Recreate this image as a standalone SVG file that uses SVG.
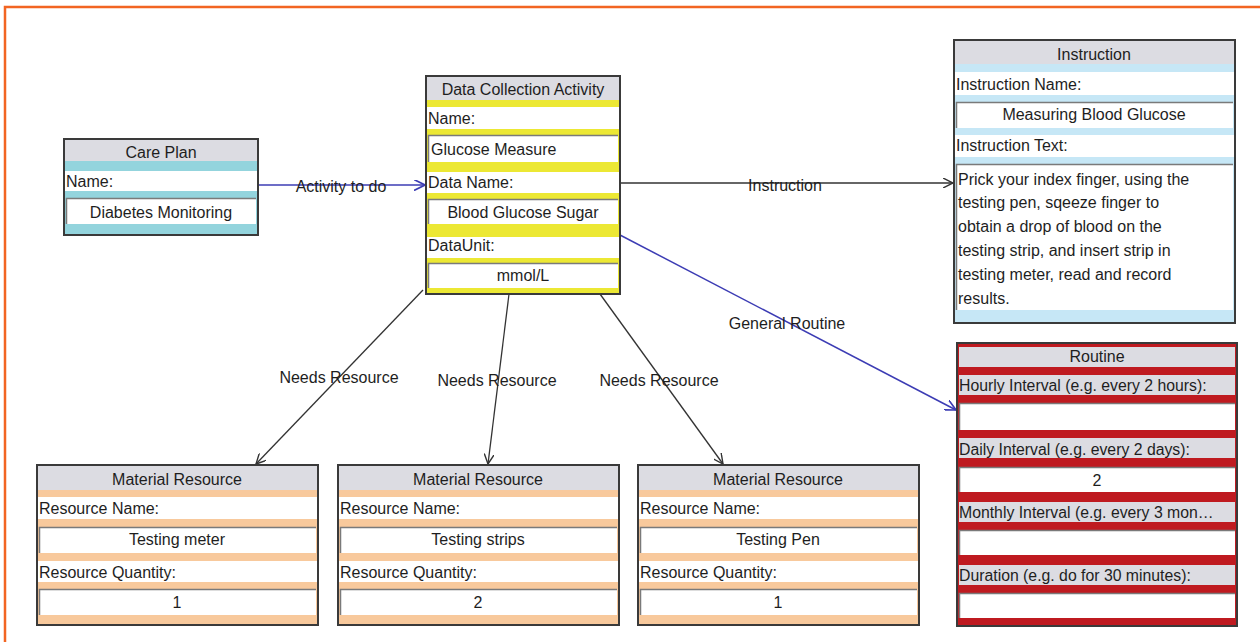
<svg xmlns="http://www.w3.org/2000/svg" width="1260" height="642" viewBox="0 0 1260 642">
<style>
text{font-family:"Liberation Sans",Arial,sans-serif;font-size:16px;fill:#1e1e1e}
.c{text-anchor:middle}
.box{stroke:#3a3a3a;stroke-width:2}
.hdr{fill:#dcdce2}
.row{fill:#ffffff}
.val{fill:#ffffff}
.inset{fill:none;stroke:#7a7a7a;stroke-width:1.5}
.teal{fill:#93d4dd}
.yel{fill:#ece834}
.blu{fill:#c6e7f6}
.red{fill:#bf1a20}
.org{fill:#f8c99c}
.lnk{fill:none;stroke:#333;stroke-width:1.3}
.lnkb{fill:none;stroke:#3c3cb4;stroke-width:1.5}
.lbl{font-size:16px}
.sm{font-size:15.8px}
</style>
<defs>
<marker id="ak" viewBox="0 0 10 10" refX="10" refY="5" markerWidth="10" markerHeight="10" markerUnits="userSpaceOnUse" orient="auto">
<path d="M0,0 L10,5 L0,10" fill="none" stroke="#333" stroke-width="1.4"/>
</marker>
<marker id="ab" viewBox="0 0 10 10" refX="10" refY="5" markerWidth="11" markerHeight="11" markerUnits="userSpaceOnUse" orient="auto">
<path d="M0,0 L10,5 L0,10" fill="none" stroke="#3c3cb4" stroke-width="1.5"/>
</marker>
</defs>
<rect width="1260" height="642" fill="#ffffff"/>
<path d="M5,642 V7 H1260" fill="none" stroke="#f26522" stroke-width="2.5"/>

<g id="connectors">
<line class="lnkb" x1="258" y1="185" x2="425" y2="185" marker-end="url(#ab)"/>
<text class="lbl c" x="341" y="192">Activity to do</text>
<line class="lnk" x1="620" y1="183" x2="953" y2="183" marker-end="url(#ak)"/>
<text class="lbl c" x="785" y="191">Instruction</text>
<line class="lnkb" x1="620" y1="235" x2="956" y2="410" marker-end="url(#ab)"/>
<text class="lbl c" x="787" y="329">General Routine</text>
<line class="lnk" x1="423" y1="290" x2="256" y2="464" marker-end="url(#ak)"/>
<text class="lbl c" x="339" y="383">Needs Resource</text>
<line class="lnk" x1="509" y1="294" x2="488" y2="464" marker-end="url(#ak)"/>
<text class="lbl c" x="497" y="386">Needs Resource</text>
<line class="lnk" x1="600" y1="294" x2="723" y2="464" marker-end="url(#ak)"/>
<text class="lbl c" x="659" y="386">Needs Resource</text>
</g>

<g id="care-plan">
<rect class="box teal" x="64" y="139" width="194" height="96"/>
<rect class="hdr" x="65" y="140" width="192" height="21"/>
<text class="c" x="161" y="158">Care Plan</text>
<rect class="row" x="65" y="171" width="192" height="20"/>
<text x="66" y="187">Name:</text>
<rect class="val" x="66" y="198" width="190" height="26"/>
<path class="inset" d="M66.5,224 V198.5 H256"/>
<text class="c" x="161" y="218">Diabetes Monitoring</text>
</g>

<g id="data-collection-activity">
<rect class="box yel" x="426" y="76" width="194" height="218"/>
<rect class="hdr" x="427" y="77" width="192" height="23"/>
<text class="c" x="523" y="95">Data Collection Activity</text>
<rect class="row" x="427" y="107" width="192" height="22"/>
<text x="428" y="124">Name:</text>
<rect class="val" x="428" y="135" width="190" height="27"/>
<path class="inset" d="M428.5,162 V135.5 H618"/>
<text x="431" y="155">Glucose Measure</text>
<rect class="row" x="427" y="172" width="192" height="21"/>
<text x="428" y="188">Data Name:</text>
<rect class="val" x="428" y="199" width="190" height="25"/>
<path class="inset" d="M428.5,224 V199.5 H618"/>
<text class="c" x="523" y="218">Blood Glucose Sugar</text>
<rect class="row" x="427" y="237" width="192" height="21"/>
<text x="428" y="251">DataUnit:</text>
<rect class="val" x="428" y="263" width="190" height="25"/>
<path class="inset" d="M428.5,288 V263.5 H618"/>
<text class="c" x="523" y="281">mmol/L</text>
</g>

<g id="instruction">
<rect class="box blu" x="954" y="40" width="281" height="283"/>
<rect class="hdr" x="955" y="41" width="279" height="23"/>
<text class="c" x="1094" y="60">Instruction</text>
<rect class="row" x="955" y="72" width="279" height="23"/>
<text x="956" y="90">Instruction Name:</text>
<rect class="val" x="956" y="102" width="277" height="26"/>
<path class="inset" d="M956.5,128 V102.5 H1233"/>
<text class="c" x="1094" y="120">Measuring Blood Glucose</text>
<rect class="row" x="955" y="135" width="279" height="22"/>
<text x="956" y="151">Instruction Text:</text>
<rect class="val" x="956" y="164" width="277" height="146"/>
<path class="inset" d="M956.5,310 V164.5 H1233"/>
<text x="958" y="185">Prick your index finger, using the</text>
<text x="958" y="208">testing pen, sqeeze finger to</text>
<text x="958" y="232">obtain a drop of blood on the</text>
<text x="958" y="256">testing strip, and insert strip in</text>
<text x="958" y="280">testing meter, read and record</text>
<text x="958" y="304">results.</text>
</g>

<g id="routine">
<rect class="box red" x="957" y="343" width="280" height="283"/>
<rect class="hdr" x="959" y="347" width="276" height="20"/>
<text class="c" x="1097" y="362">Routine</text>
<rect class="hdr" x="959" y="375" width="276" height="20"/>
<text class="sm" x="959" y="391">Hourly Interval (e.g. every 2 hours):</text>
<rect class="val" x="959" y="403" width="276" height="27"/>
<path class="inset" d="M959.5,430 V403.5 H1235"/>
<rect class="hdr" x="959" y="438" width="276" height="20"/>
<text class="sm" x="959" y="455">Daily Interval (e.g. every 2 days):</text>
<rect class="val" x="959" y="467" width="276" height="25"/>
<path class="inset" d="M959.5,492 V467.5 H1235"/>
<text class="c" x="1097" y="486">2</text>
<rect class="hdr" x="959" y="502" width="276" height="20"/>
<text class="sm" x="959" y="518">Monthly Interval (e.g. every 3 mon…</text>
<rect class="val" x="959" y="530" width="276" height="25"/>
<path class="inset" d="M959.5,555 V530.5 H1235"/>
<rect class="hdr" x="959" y="565" width="276" height="20"/>
<text class="sm" x="959" y="581">Duration (e.g. do for 30 minutes):</text>
<rect class="val" x="959" y="593" width="276" height="25"/>
<path class="inset" d="M959.5,618 V593.5 H1235"/>
</g>

<g id="material-resource-1">
<rect class="box org" x="37" y="465" width="281" height="160"/>
<rect class="hdr" x="38" y="466" width="279" height="24"/>
<text class="c" x="177" y="485">Material Resource</text>
<rect class="row" x="38" y="497" width="279" height="22"/>
<text x="39" y="514">Resource Name:</text>
<rect class="val" x="39" y="527" width="277" height="26"/>
<path class="inset" d="M39.5,553 V527.5 H316"/>
<text class="c" x="177" y="545">Testing meter</text>
<rect class="row" x="38" y="561" width="279" height="21"/>
<text x="39" y="578">Resource Quantity:</text>
<rect class="val" x="39" y="589" width="277" height="26"/>
<path class="inset" d="M39.5,615 V589.5 H316"/>
<text class="c" x="177" y="608">1</text>
</g>

<g id="material-resource-2">
<rect class="box org" x="338" y="465" width="281" height="160"/>
<rect class="hdr" x="339" y="466" width="279" height="24"/>
<text class="c" x="478" y="485">Material Resource</text>
<rect class="row" x="339" y="497" width="279" height="22"/>
<text x="340" y="514">Resource Name:</text>
<rect class="val" x="340" y="527" width="277" height="26"/>
<path class="inset" d="M340.5,553 V527.5 H617"/>
<text class="c" x="478" y="545">Testing strips</text>
<rect class="row" x="339" y="561" width="279" height="21"/>
<text x="340" y="578">Resource Quantity:</text>
<rect class="val" x="340" y="589" width="277" height="26"/>
<path class="inset" d="M340.5,615 V589.5 H617"/>
<text class="c" x="478" y="608">2</text>
</g>

<g id="material-resource-3">
<rect class="box org" x="638" y="465" width="281" height="160"/>
<rect class="hdr" x="639" y="466" width="279" height="24"/>
<text class="c" x="778" y="485">Material Resource</text>
<rect class="row" x="639" y="497" width="279" height="22"/>
<text x="640" y="514">Resource Name:</text>
<rect class="val" x="640" y="527" width="277" height="26"/>
<path class="inset" d="M640.5,553 V527.5 H917"/>
<text class="c" x="778" y="545">Testing Pen</text>
<rect class="row" x="639" y="561" width="279" height="21"/>
<text x="640" y="578">Resource Quantity:</text>
<rect class="val" x="640" y="589" width="277" height="26"/>
<path class="inset" d="M640.5,615 V589.5 H917"/>
<text class="c" x="778" y="608">1</text>
</g>
</svg>
